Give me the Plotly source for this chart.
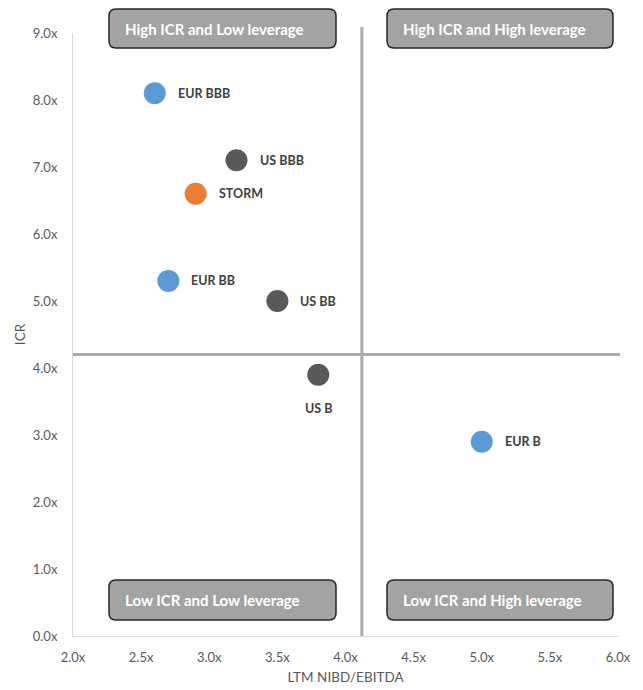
import plotly.graph_objects as go

# Data
labels = ["EUR BBB", "US BBB", "STORM", "EUR BB", "US BB", "US B", "EUR B"]
leverage = [2.6, 3.2, 2.9, 2.7, 3.5, 3.8, 5.0]
icr = [8.1, 7.1, 6.6, 5.3, 5.0, 3.9, 2.9]
colors = ["#5B9BD5", "#595959", "#ED7D31", "#5B9BD5", "#595959", "#595959", "#5B9BD5"]
label_pos = ["right", "right", "right", "right", "right", "below", "right"]

x_ticks = [2.0, 2.5, 3.0, 3.5, 4.0, 4.5, 5.0, 5.5, 6.0]
y_ticks = [0.0, 1.0, 2.0, 3.0, 4.0, 5.0, 6.0, 7.0, 8.0, 9.0]
x_ticktext = [f"{v:.1f}x" for v in x_ticks]
y_ticktext = [f"{v:.1f}x" for v in y_ticks]

x_split = 4.12
y_split = 4.2

quadrants = ["High ICR and Low leverage", "High ICR and High leverage",
             "Low ICR and Low leverage", "Low ICR and High leverage"]

W, H = 643, 690
ML, MR, MT, MB = 73, 25, 33, 54
PW = W - ML - MR
PH = H - MT - MB

def px(x):
    return (x - ML) / PW

def py(y):
    return (H - MB - y) / PH

fig = go.Figure()
fig.add_trace(go.Scatter(
    x=leverage, y=icr, mode="markers",
    marker=dict(size=22, color=colors, line=dict(width=0)),
    hoverinfo="text", text=labels, showlegend=False, cliponaxis=False,
))

annotations = []
for lab, xv, yv, pos in zip(labels, leverage, icr, label_pos):
    if pos == "right":
        annotations.append(dict(x=xv, y=yv, xref="x", yref="y", text=f"<b>{lab}</b>",
                                showarrow=False, xanchor="left", yanchor="middle", xshift=21,
                                font=dict(family="Lato, Open Sans", size=12.5, color="#404040")))
    else:
        annotations.append(dict(x=xv, y=yv, xref="x", yref="y", text=f"<b>{lab}</b>",
                                showarrow=False, xanchor="center", yanchor="middle", yshift=-34,
                                font=dict(family="Lato, Open Sans", size=12.5, color="#404040")))

shapes = []
# Quadrant divider lines
shapes.append(dict(type="line", xref="x", yref="paper", x0=x_split, x1=x_split, y0=0, y1=py(27),
                   line=dict(color="#AEAAAA", width=3), layer="below"))
shapes.append(dict(type="line", xref="paper", yref="y", x0=0, x1=px(620), y0=y_split, y1=y_split,
                   line=dict(color="#AEAAAA", width=3), layer="below"))

def rounded_box(x0, y0, x1, y1, r=7):
    rx = r / PW
    ry = r / PH
    X0, X1 = px(x0), px(x1)
    Yt, Yb = py(y0), py(y1)
    return (f"M {X0+rx},{Yt} L {X1-rx},{Yt} Q {X1},{Yt} {X1},{Yt-ry} "
            f"L {X1},{Yb+ry} Q {X1},{Yb} {X1-rx},{Yb} L {X0+rx},{Yb} "
            f"Q {X0},{Yb} {X0},{Yb+ry} L {X0},{Yt-ry} Q {X0},{Yt} {X0+rx},{Yt} Z")

boxes = [(109, 9, 336, 48), (387, 9, 613, 48), (109, 580, 336, 620), (387, 580, 613, 620)]
for (bx0, by0, bx1, by1), qt in zip(boxes, quadrants):
    shapes.append(dict(type="path", xref="paper", yref="paper", path=rounded_box(bx0, by0, bx1, by1),
                       fillcolor="#A3A3A3", line=dict(color="#262626", width=1.5), layer="above"))
    annotations.append(dict(x=px(bx0 + 14), y=py((by0 + by1) / 2), xref="paper", yref="paper",
                            text=f"<b>{qt}</b>", showarrow=False, xanchor="left", yanchor="middle",
                            font=dict(family="Lato, Open Sans", size=15, color="#FFFFFF")))

fig.update_layout(
    width=W, height=H,
    margin=dict(l=ML, r=MR, t=MT, b=MB),
    paper_bgcolor="white", plot_bgcolor="white",
    font=dict(family="Lato, Open Sans", color="#595959", size=12),
    shapes=shapes, annotations=annotations,
    xaxis=dict(range=[2.0, 6.0], tickvals=x_ticks, ticktext=x_ticktext,
               showgrid=False, zeroline=False, automargin=False,
               showline=True, linecolor="#D9D9D9", linewidth=1, ticks="",
               ticklabelstandoff=9,
               title=dict(text="LTM NIBD/EBITDA", font=dict(size=13.5, color="#595959"), standoff=8),
               tickfont=dict(size=13, color="#595959")),
    yaxis=dict(range=[0, 9.0], tickvals=y_ticks, ticktext=y_ticktext,
               showgrid=False, zeroline=False, automargin=False,
               showline=True, linecolor="#D9D9D9", linewidth=1, ticks="",
               ticklabelstandoff=12,
               title=dict(text="ICR", font=dict(size=13.5, color="#595959"), standoff=4),
               tickfont=dict(size=13, color="#595959")),
)

fig.write_html("out.html")
